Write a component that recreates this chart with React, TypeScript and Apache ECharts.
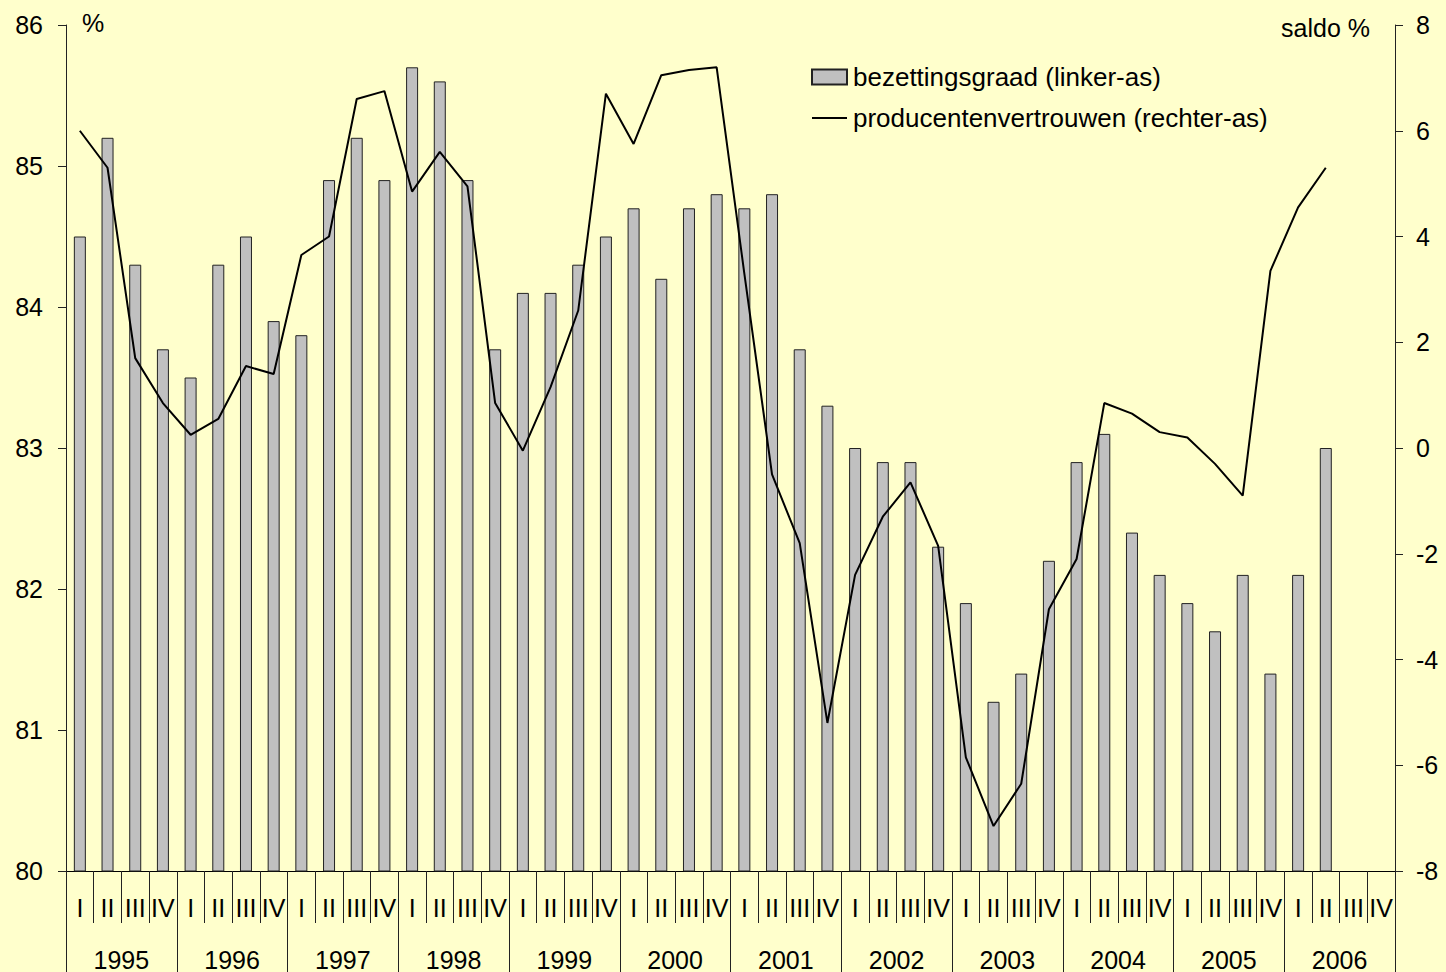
import React, { useEffect, useRef } from "react";
import * as echarts from "echarts";

const years = ["1995", "1996", "1997", "1998", "1999", "2000", "2001", "2002", "2003", "2004", "2005", "2006"];
const quarters = ["I", "II", "III", "IV"];

// bezettingsgraad (linker-as), %
const bezettingsgraad = [
  84.5, 85.2, 84.3, 83.7,
  83.5, 84.3, 84.5, 83.9,
  83.8, 84.9, 85.2, 84.9,
  85.7, 85.6, 84.9, 83.7,
  84.1, 84.1, 84.3, 84.5,
  84.7, 84.2, 84.7, 84.8,
  84.7, 84.8, 83.7, 83.3,
  83.0, 82.9, 82.9, 82.3,
  81.9, 81.2, 81.4, 82.2,
  82.9, 83.1, 82.4, 82.1,
  81.9, 81.7, 82.1, 81.4,
  82.1, 83.0,
];

// producentenvertrouwen (rechter-as), saldo %
const producentenvertrouwen = [
  6.0, 5.3, 1.7, 0.85,
  0.25, 0.55, 1.55, 1.4,
  3.65, 4.0, 6.6, 6.75,
  4.85, 5.6, 4.95, 0.85,
  -0.05, 1.15, 2.6, 6.7,
  5.75, 7.05, 7.15, 7.2,
  3.3, -0.5, -1.8, -5.2,
  -2.4, -1.3, -0.65, -1.85,
  -5.85, -7.15, -6.35, -3.05,
  -2.1, 0.85, 0.65, 0.3,
  0.2, -0.3, -0.9, 3.35,
  4.55, 5.3,
];

const leftTicks = { min: 80, max: 86, interval: 1 };
const rightTicks = { min: -8, max: 8, interval: 2 };

const categories = years.flatMap((y) => quarters.map((q) => q));

const FONT = "'Liberation Sans', Arial, sans-serif";
const FS = 25;

export default function App() {
  const ref = useRef<HTMLDivElement>(null);

  useEffect(() => {
    if (!ref.current) return;
    const chart = echarts.init(ref.current, null, { renderer: "svg" });
    const axisColor = "#222";
    chart.setOption({
      animation: false,
      backgroundColor: "#FFFFCC",
      textStyle: { fontFamily: FONT, color: "#000" },
      grid: { left: 66, right: 51, top: 25, bottom: 101, containLabel: false },
      legend: {
        orient: "vertical",
        left: 806,
        top: 59,
        itemWidth: 35,
        itemHeight: 15,
        itemGap: 15,
        textStyle: { fontFamily: FONT, fontSize: 26, color: "#000", padding: [0, 0, 0, 1] },
        data: [
          { name: "bezettingsgraad (linker-as)", icon: "rect" },
          {
            name: "producentenvertrouwen (rechter-as)",
            icon: "path://M0 0H35V2H0Z",
            itemStyle: { color: "#000", borderWidth: 0 },
          },
        ],
        selectedMode: false,
      },
      xAxis: [
        {
          type: "category",
          data: categories,
          position: "bottom",
          axisLine: { show: true, onZero: false, lineStyle: { color: "#000", width: 1 } },
          axisTick: { show: true, interval: 0, length: 52, lineStyle: { color: axisColor } },
          axisLabel: { interval: 0, margin: 24, fontSize: FS, color: "#000", fontFamily: FONT },
          splitLine: { show: false },
        },
        {
          type: "category",
          data: years,
          position: "bottom",
          axisLine: { show: false, onZero: false },
          axisTick: { show: true, interval: 0, length: 101, lineStyle: { color: axisColor } },
          axisLabel: { interval: 0, margin: 76, fontSize: FS, color: "#000", fontFamily: FONT },
          splitLine: { show: false },
        },
      ],
      yAxis: [
        {
          type: "value",
          position: "left",
          min: leftTicks.min,
          max: leftTicks.max,
          interval: leftTicks.interval,
          axisLine: { show: true, onZero: false, lineStyle: { color: axisColor } },
          axisTick: { show: true, length: 8, lineStyle: { color: axisColor } },
          axisLabel: { margin: 23, fontSize: FS, color: "#000", fontFamily: FONT },
          splitLine: { show: false },
        },
        {
          type: "value",
          position: "right",
          min: rightTicks.min,
          max: rightTicks.max,
          interval: rightTicks.interval,
          axisLine: { show: true, onZero: false, lineStyle: { color: axisColor } },
          axisTick: { show: true, length: 8, lineStyle: { color: axisColor } },
          axisLabel: { margin: 21, fontSize: FS, color: "#000", fontFamily: FONT },
          splitLine: { show: false },
        },
      ],
      graphic: [
        {
          type: "text",
          left: 82,
          top: 10,
          style: { text: "%", fontSize: FS, fontFamily: FONT, fill: "#000" },
        },
        {
          type: "text",
          right: 1446 - 1370,
          top: 15,
          style: { text: "saldo %", fontSize: FS, fontFamily: FONT, fill: "#000" },
        },
      ],
      series: [
        {
          name: "bezettingsgraad (linker-as)",
          type: "bar",
          xAxisIndex: 0,
          yAxisIndex: 0,
          data: bezettingsgraad,
          barWidth: 12,
          itemStyle: { color: "#C0C0C0", borderColor: "#222", borderWidth: 1 },
        },
        {
          name: "producentenvertrouwen (rechter-as)",
          type: "line",
          xAxisIndex: 0,
          yAxisIndex: 1,
          data: producentenvertrouwen,
          symbol: "none",
          showSymbol: false,
          lineStyle: { color: "#000", width: 2 },
          itemStyle: { color: "#000" },
        },
      ],
    });
    return () => chart.dispose();
  }, []);

  return (
    <div
      ref={ref}
      style={{ position: "absolute", left: 0, top: 0, width: 1446, height: 972, background: "#FFFFCC" }}
    />
  );
}
